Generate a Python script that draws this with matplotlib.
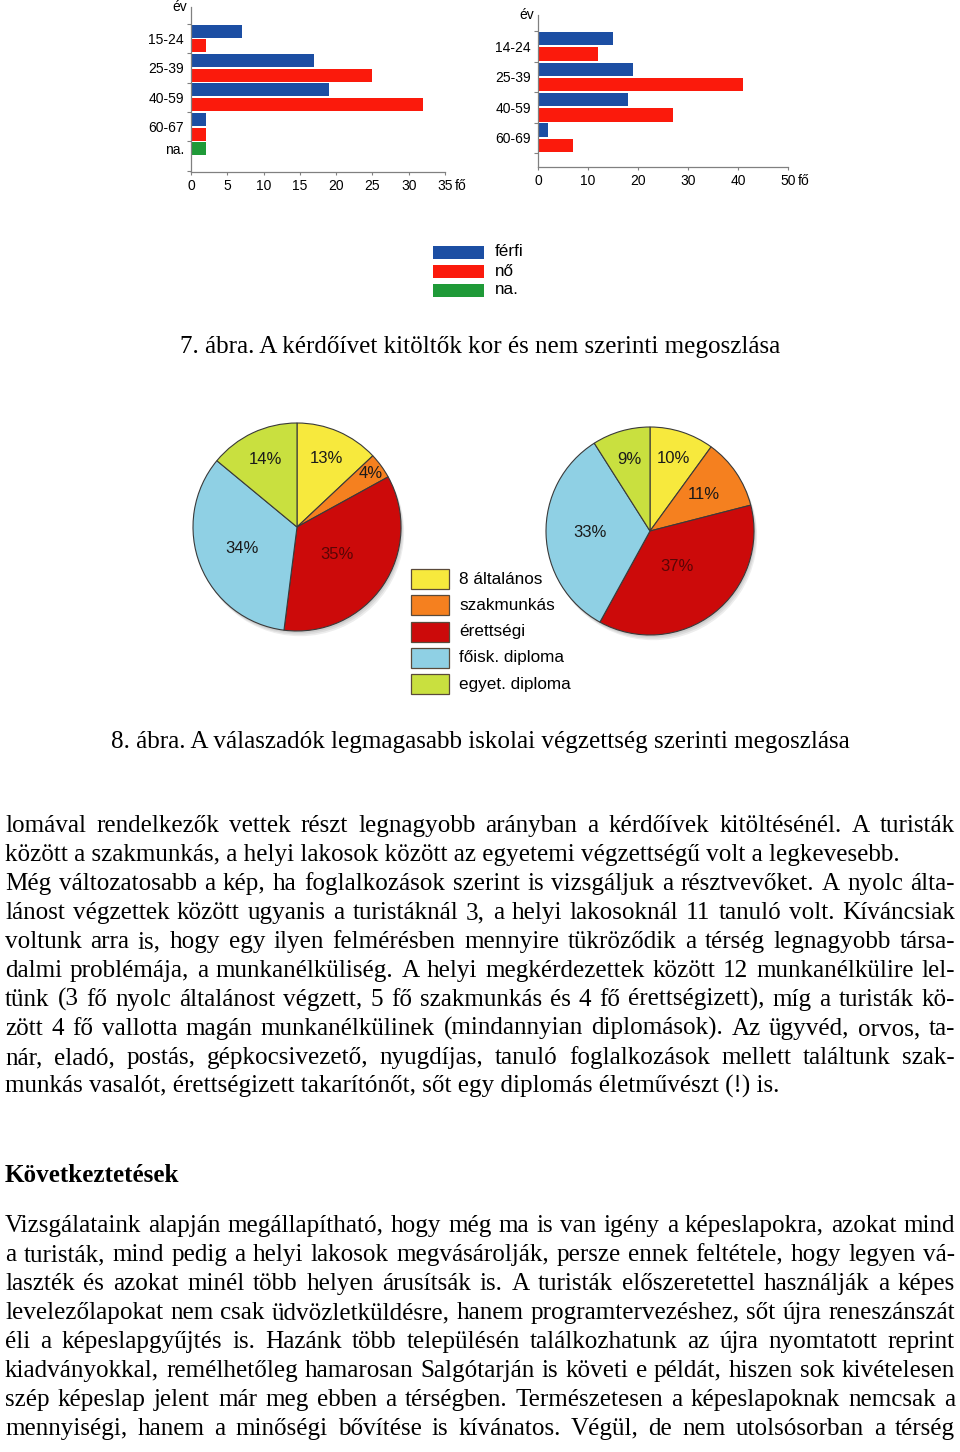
import matplotlib
matplotlib.use('Agg')
import matplotlib.pyplot as plt
from matplotlib.patches import Rectangle, Circle
import numpy as np

W, H = 960, 1452
SANS = 'Liberation Sans'
SERIF = 'Liberation Serif'
GRAY = '#808080'

# 7. ábra: bal = turisták, jobb = helyi lakosok (fő)
left_groups = ['15-24', '25-39', '40-59', '60-67', 'na.']
left_ferfi = [7, 17, 19, 2, 0]
left_no = [2, 25, 32, 2, 0]
left_na = [0, 0, 0, 0, 2]

right_groups = ['14-24', '25-39', '40-59', '60-69']
right_ferfi = [15, 19, 18, 2]
right_no = [12, 41, 27, 7]

sex_labels = ['férfi', 'nő', 'na.']
sex_colors = ['#1c4ea3', '#fb1a0c', '#1f9a38']

# 8. ábra: iskolai végzettség (%)
edu_labels = ['8 általános', 'szakmunkás', 'érettségi', 'főisk. diploma', 'egyet. diploma']
edu_colors = ['#f7e93d', '#f5801f', '#cc0a0a', '#8fd0e4', '#c9e03f']
pie_left = [13, 4, 35, 34, 14]
pie_right = [10, 11, 37, 33, 9]

caption7 = '7. ábra. A kérdőívet kitöltők kor és nem szerinti megoszlása'
caption8 = '8. ábra. A válaszadók legmagasabb iskolai végzettség szerinti megoszlása'
heading = 'Következtetések'

para1 = [
    "lomával rendelkezők vettek részt legnagyobb arányban a kérdőívek kitöltésénél. A turisták",
    "között a szakmunkás, a helyi lakosok között az egyetemi végzettségű volt a legkevesebb.",
    "Még változatosabb a kép, ha foglalkozások szerint is vizsgáljuk a résztvevőket. A nyolc álta-",
    "lánost végzettek között ugyanis a turistáknál 3, a helyi lakosoknál 11 tanuló volt. Kíváncsiak",
    "voltunk arra is, hogy egy ilyen felmérésben mennyire tükröződik a térség legnagyobb társa-",
    "dalmi problémája, a munkanélküliség. A helyi megkérdezettek között 12 munkanélkülire lel-",
    "tünk (3 fő nyolc általánost végzett, 5 fő szakmunkás és 4 fő érettségizett), míg a turisták kö-",
    "zött 4 fő vallotta magán munkanélkülinek (mindannyian diplomások). Az ügyvéd, orvos, ta-",
    "nár, eladó, postás, gépkocsivezető, nyugdíjas, tanuló foglalkozások mellett találtunk szak-",
    "munkás vasalót, érettségizett takarítónőt, sőt egy diplomás életművészt (!) is.",
]
para1_short = {1, 9}
para2 = [
    "Vizsgálataink alapján megállapítható, hogy még ma is van igény a képeslapokra, azokat mind",
    "a turisták, mind pedig a helyi lakosok megvásárolják, persze ennek feltétele, hogy legyen vá-",
    "laszték és azokat minél több helyen árusítsák is. A turisták előszeretettel használják a képes",
    "levelezőlapokat nem csak üdvözletküldésre, hanem programtervezéshez, sőt újra reneszánszát",
    "éli a képeslapgyűjtés is. Hazánk több településén találkozhatunk az újra nyomtatott reprint",
    "kiadványokkal, remélhetőleg hamarosan Salgótarján is követi e példát, hiszen sok kivételesen",
    "szép képeslap jelent már meg ebben a térségben. Természetesen a képeslapoknak nemcsak a",
    "mennyiségi, hanem a minőségi bővítése is kívánatos. Végül, de nem utolsósorban a térség",
]

fig = plt.figure(figsize=(W / 100, H / 100), dpi=100)
fig.patch.set_facecolor('white')

# overlay in pixel coordinates for texts / legends
ov = fig.add_axes([0, 0, 1, 1])
ov.set_xlim(0, W)
ov.set_ylim(H, 0)
ov.axis('off')


def px_axes(x0, y0, x1, y1):
    return fig.add_axes([x0 / W, 1 - y1 / H, (x1 - x0) / W, (y1 - y0) / H])


def bar_panel(box, groups, series, xmax, step, ylim, bounds):
    ax = px_axes(*box)
    ax.patch.set_visible(False)
    pos = 0
    label_pos = []
    for gi in range(len(groups)):
        ys = []
        for vals, col in series:
            v = vals[gi]
            if v:
                ax.barh(pos, v, height=0.88, color=col)
                ys.append(pos)
                pos += 1
        label_pos.append(np.mean(ys))
    ax.set_xlim(0, xmax)
    ax.set_ylim(*ylim)
    ax.set_yticks(label_pos)
    ax.set_yticklabels(groups, fontsize=10, family=SANS)
    ax.tick_params(axis='y', which='major', length=0, pad=5)
    ax.set_yticks(bounds, minor=True)
    ax.tick_params(axis='y', which='minor', length=3, color=GRAY, width=0.8)
    ticks = list(range(0, xmax + 1, step))
    ax.set_xticks(ticks)
    ax.set_xticklabels([str(t) for t in ticks], fontsize=10, family=SANS)
    ax.tick_params(axis='x', length=2.5, pad=2.5, color=GRAY, width=0.8)
    for s in ['top', 'right']:
        ax.spines[s].set_visible(False)
    for s in ['left', 'bottom']:
        ax.spines[s].set_color(GRAY)
        ax.spines[s].set_linewidth(0.9)
    ax.annotate('fő', xy=(xmax, 0), xycoords=('data', 'axes fraction'),
                xytext=(7, -5), textcoords='offset points', ha='left', va='top',
                fontsize=10, family=SANS)
    ax.annotate('év', xy=(0, 1), xycoords='axes fraction', xytext=(-3, 0),
                textcoords='offset points', ha='right', va='center',
                fontsize=10, family=SANS)
    return ax


bar_panel((191, 7, 445, 172), left_groups,
          [(left_ferfi, sex_colors[0]), (left_no, sex_colors[1]), (left_na, sex_colors[2])],
          35, 5, (9.58, -1.64), [-0.5, 1.5, 3.5, 5.5, 7.5, 9.5])
bar_panel((538, 15, 788, 167), right_groups,
          [(right_ferfi, sex_colors[0]), (right_no, sex_colors[1])],
          50, 10, (8.42, -1.56), [-0.5, 1.5, 3.5, 5.5, 7.5])

# bar legend
for i, (lab, col) in enumerate(zip(sex_labels, sex_colors)):
    yc = 252 + i * 19
    ov.add_patch(Rectangle((433, yc - 6.5), 51, 13, facecolor=col, edgecolor='none'))
    ov.text(495, yc, lab, ha='left', va='center', fontsize=12.3, family=SANS)


def pie_panel(cx, cy, r, vals, dists):
    ax = px_axes(cx - 1.15 * r, cy - 1.15 * r, cx + 1.15 * r, cy + 1.15 * r)
    for off in [0.05, 0.035, 0.02]:
        ax.add_patch(Circle((off * 0.6, -off), 1.0, facecolor='#000000',
                            alpha=0.07, edgecolor='none', zorder=0))
    wedges, _ = ax.pie(vals, startangle=90, counterclock=False, colors=edu_colors,
                       radius=1.0, wedgeprops=dict(edgecolor='#3a3a3a', linewidth=0.8))
    ax.set_xlim(-1.15, 1.15)
    ax.set_ylim(-1.15, 1.15)
    ax.set_aspect('equal')
    ax.axis('off')
    for w, v, d in zip(wedges, vals, dists):
        a = np.deg2rad((w.theta1 + w.theta2) / 2)
        col = '#5a0505' if w.get_facecolor()[1] < 0.2 else '#1a1a1a'
        ax.text(d * np.cos(a), d * np.sin(a), f'{v}%', ha='center', va='center',
                fontsize=12, family=SANS, color=col)
    return ax


pie_panel(297, 527, 104, pie_left, [0.72, 0.88, 0.47, 0.57, 0.72])
pie_panel(650, 531, 104, pie_right, [0.73, 0.63, 0.43, 0.58, 0.72])

# pie legend
for i, (lab, col) in enumerate(zip(edu_labels, edu_colors)):
    yc = 579 + i * 26.3
    ov.add_patch(Rectangle((411, yc - 10), 38, 20, facecolor=col, edgecolor='#5a4a3a', lw=0.9))
    ov.text(459, yc, lab, ha='left', va='center', fontsize=12.3, family=SANS)

# captions and body text
BODY = 18.1
ov.text(480, 353, caption7, ha='center', va='baseline', fontsize=BODY, family=SERIF)
ov.text(480, 748, caption8, ha='center', va='baseline', fontsize=BODY, family=SERIF)
ov.text(5, 1182, heading, ha='left', va='baseline', fontsize=BODY, family=SERIF,
        fontweight='bold')

renderer = fig.canvas.get_renderer()


def justify(line, y, short=False, x0=5, x1=955):
    if short:
        # paragraph end: plain left-aligned line
        ov.text(x0, y, line, ha='left', va='baseline', fontsize=BODY, family=SERIF)
        return
    words = line.split(' ')
    ts = [ov.text(0, y, w, ha='left', va='baseline', fontsize=BODY, family=SERIF)
          for w in words]
    widths = [t.get_window_extent(renderer).width for t in ts]
    gap = (x1 - x0 - sum(widths)) / (len(words) - 1)
    x = x0
    for t, wd in zip(ts, widths):
        t.set_x(x)
        x += wd + gap


for i, line in enumerate(para1):
    justify(line, 832 + 29 * i, short=i in para1_short)
for i, line in enumerate(para2):
    justify(line, 1232 + 29 * i)

fig.savefig('out.png', dpi=100)
